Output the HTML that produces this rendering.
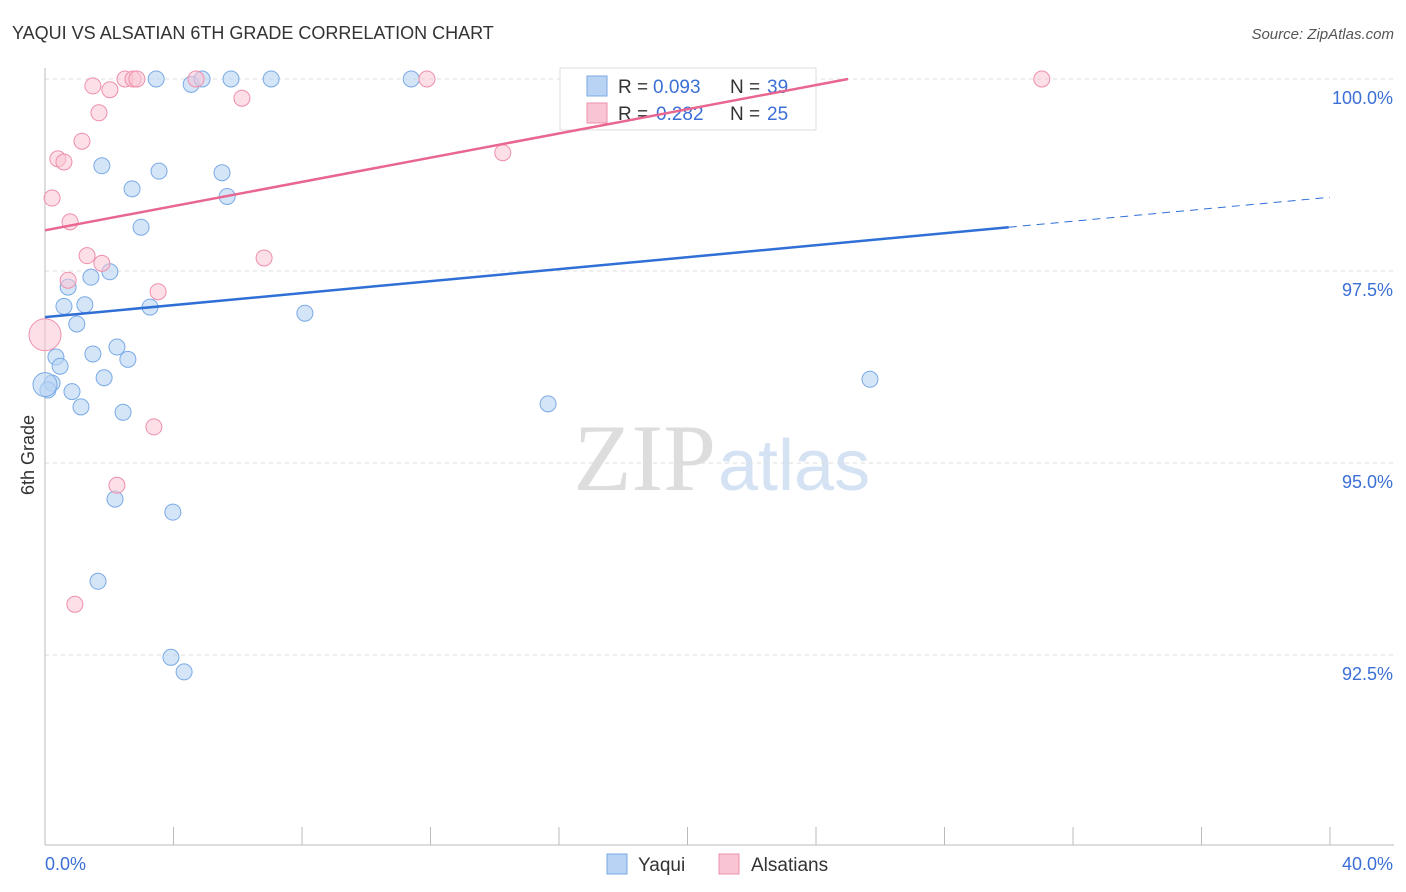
<!DOCTYPE html>
<html><head><meta charset="utf-8"><style>
body{margin:0;background:#fff;font-family:"Liberation Sans",sans-serif;}
</style></head><body>
<svg id="c" width="1406" height="892" style="display:block">
<text x="12" y="39" font-size="18" fill="#333">YAQUI VS ALSATIAN 6TH GRADE CORRELATION CHART</text>
<text x="1394" y="39" font-size="15" fill="#555" font-style="italic" text-anchor="end">Source: ZipAtlas.com</text>
<text x="716" y="490" font-size="95" fill="#ddd" text-anchor="end" font-family="Liberation Serif">ZIP</text>
<text x="718" y="490" font-size="72" fill="#d4e2f3">atlas</text>
<text x="34" y="455" font-size="18" fill="#333" transform="rotate(-90 34 455)" text-anchor="middle">6th Grade</text>
<g id="grid"></g>
<g>
<rect x="560" y="68" width="256" height="62" fill="#fff" stroke="#ddd"/>
<rect x="587" y="76" width="20" height="20" fill="#b8d3f3" stroke="#7aaae6"/>
<text x="618" y="93" font-size="19" fill="#333">R =</text><text x="653" y="93" font-size="19" fill="#3b6fd6">0.093</text>
<text x="730" y="93" font-size="19" fill="#333">N =</text><text x="767" y="93" font-size="19" fill="#3b6fd6">39</text>
<rect x="587" y="103" width="20" height="20" fill="#f9c4d3" stroke="#ee8fab"/>
<text x="618" y="120" font-size="19" fill="#333">R =</text><text x="656" y="120" font-size="19" fill="#3b6fd6">0.282</text>
<text x="730" y="120" font-size="19" fill="#333">N =</text><text x="767" y="120" font-size="19" fill="#3b6fd6">25</text>
</g>
<g id="pts"></g><g id="lines"></g>
<g>
<rect x="607" y="854" width="20" height="20" fill="#b8d3f3" stroke="#7aaae6"/>
<text x="638" y="871" font-size="19" fill="#333">Yaqui</text>
<rect x="719" y="854" width="20" height="20" fill="#f9c4d3" stroke="#ee8fab"/>
<text x="751" y="871" font-size="19" fill="#333">Alsatians</text>
</g>
</svg>
<script>
const yTicks=[100,97.5,95,92.5];
const yTickLabels=["100.0%","97.5%","95.0%","92.5%"];
const xTicks=[0,4,8,12,16,20,24,28,32,36,40];
const yaquiX=[3.46,4.55,4.89,5.79,7.04,11.4,1.77,3.55,5.51,2.71,5.67,2.99,2.02,1.43,0.72,0.59,1.24,3.27,0.99,8.09,0.34,1.49,2.24,2.58,0.47,1.84,0.22,0.09,0.84,1.12,2.43,15.66,25.68,2.18,3.98,1.65,3.92,4.33,0.0];
const yaquiY=[100,99.93,100,100,100,100,98.87,98.80,98.78,98.57,98.47,98.07,97.49,97.42,97.29,97.04,97.06,97.03,96.81,96.95,96.38,96.42,96.51,96.35,96.26,96.11,96.04,95.95,95.93,95.73,95.66,95.77,96.09,94.53,94.36,93.46,92.47,92.28,96.02];
const alsX=[2.49,2.74,2.86,4.7,11.89,31.03,1.49,2.02,1.68,6.13,1.15,0.4,0.59,0.22,14.25,0.78,1.31,1.77,6.82,0.72,3.52,0.0,3.39,2.24,0.93];
const alsY=[100,100,100,100,100,100,99.91,99.86,99.56,99.75,99.19,98.96,98.92,98.45,99.04,98.14,97.70,97.60,97.67,97.38,97.23,96.67,95.47,94.71,93.16];
const X=v=>45+v/40*1285, Y=v=>79+(100-v)*76.8;
const ns="http://www.w3.org/2000/svg";
function mk(t,a,p){const e=document.createElementNS(ns,t);for(const k in a)e.setAttribute(k,a[k]);p.appendChild(e);return e;}
const g=document.getElementById('grid');
yTicks.forEach((t,i)=>{
 const l=mk('line',{x1:45,x2:1394,y1:Y(t),y2:Y(t),stroke:'#ddd','stroke-dasharray':'4 4'},g);
 
 
 const tx=mk('text',{x:1393,y:Y(t)+25,'font-size':18,fill:'#3b6fd6','text-anchor':'end'},g);tx.textContent=yTickLabels[i];
 
 
});
mk('line',{x1:45,x2:45,y1:68,y2:845,stroke:'#bbb'},g);
mk('line',{x1:45,x2:1394,y1:845,y2:845,stroke:'#bbb'},g);
xTicks.forEach(t=>{const l=mk('line',{x1:X(t),x2:X(t),y1:827,y2:845,stroke:'#bbb'},g);
 
 });
let a=mk('text',{x:45,y:870,'font-size':18,fill:'#3b6fd6'},g);a.textContent='0.0%';
a=mk('text',{x:1393,y:870,'font-size':18,fill:'#3b6fd6','text-anchor':'end'},g);a.textContent='40.0%';
const p=document.getElementById('pts');
yaquiX.forEach((x,i)=>{const c=mk('circle',{cx:X(x),cy:Y(yaquiY[i]),r:i==38?12:8,fill:'rgba(184,211,243,0.6)',stroke:'#7aaae6'},p);
 
 });
alsX.forEach((x,i)=>{const c=mk('circle',{cx:X(x),cy:Y(alsY[i]),r:i==21?16:8,fill:'rgba(249,196,211,0.55)',stroke:'#ee8fab'},p);
 
 });
const lg=document.getElementById('lines');
const blueA=96.90, blueB=0.039;
const pinkA=98.03, pinkB=0.0788;
function L(a,b,x0,x1,col,dash,w){const l=mk('line',{x1:X(x0),y1:Y(a+b*x0),x2:X(x1),y2:Y(a+b*x1),stroke:col,'stroke-width':w},lg);if(dash)l.setAttribute('stroke-dasharray','8 6');return l;}
let t1=L(blueA,blueB,0,30,'#2f6fd6',0,2.5);


let t2=L(blueA,blueB,30,40,'#2f6fd6',1,1);


let t3=L(pinkA,pinkB,0,(100-pinkA)/pinkB,'#e8668f',0,2.5);


</script>
</body></html>
